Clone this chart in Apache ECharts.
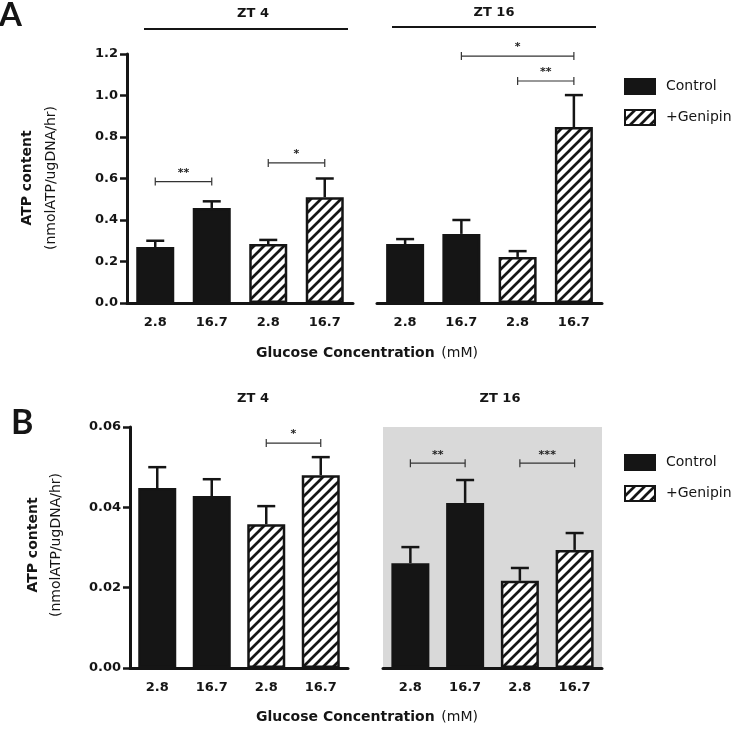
<!DOCTYPE html>
<html>
<head>
<meta charset="utf-8">
<script src="https://cdn.jsdelivr.net/npm/echarts@6/dist/echarts.min.js"></script>
<style>
  html, body { margin: 0; padding: 0; background: #fff; }
  #chart { width: 743px; height: 732px; }
</style>
</head>
<body>
<div id="chart"></div>
<script>
// x categories (glucose, mM) - same for every group
const categories = ['2.8', '16.7', '2.8', '16.7'];
const groupNames = ['ZT 4', 'ZT 16'];
const legendNames = ['Control', '+Genipin'];

// panel A - ATP content, mean and SEM (first two Control, last two +Genipin)
const aZt4Mean = [0.27, 0.458, 0.284, 0.51];
const aZt4Err = [0.03, 0.032, 0.02, 0.09];
const aZt16Mean = [0.284, 0.333, 0.222, 0.848];
const aZt16Err = [0.024, 0.067, 0.028, 0.154];

// panel B
const bZt4Mean = [0.0448, 0.0428, 0.0358, 0.048];
const bZt4Err = [0.0052, 0.0042, 0.0045, 0.0045];
const bZt16Mean = [0.0261, 0.0411, 0.0217, 0.0294];
const bZt16Err = [0.004, 0.0057, 0.0032, 0.0042];

// significance brackets: [from index, to index, y, stars]
const aZt4Sig = [[0, 1, 0.585, '**'], [2, 3, 0.675, '*']];
const aZt16Sig = [[1, 3, 1.19, '*'], [2, 3, 1.07, '**']];
const bZt4Sig = [[2, 3, 0.056, '*']];
const bZt16Sig = [[0, 1, 0.051, '**'], [2, 3, 0.051, '***']];

const FONT = 'DejaVu Sans';
const INK = '#151515';

// diagonal hatch for the +Genipin bars
function hatch() {
  const n = 10;
  const c = document.createElement('canvas');
  c.width = n;
  c.height = n;
  const g = c.getContext('2d');
  g.fillStyle = '#fff';
  g.fillRect(0, 0, n, n);
  g.strokeStyle = INK;
  g.lineWidth = 2.7;
  g.beginPath();
  g.moveTo(-2, n + 2); g.lineTo(n + 2, -2);
  g.moveTo(-2, 2); g.lineTo(2, -2);
  g.moveTo(n - 2, n + 2); g.lineTo(n + 2, n - 2);
  g.stroke();
  return c;
}
const hatchFill = { image: hatch(), repeat: 'repeat' };

const grids = [
  { left: 127, top: 54, width: 226, height: 249 },
  { left: 377, top: 54, width: 225, height: 249 },
  { left: 130, top: 427, width: 218, height: 241 },
  { left: 383, top: 427, width: 219, height: 241, show: true, backgroundColor: '#d9d9d9', borderWidth: 0 }
];

const panels = [
  { mean: aZt4Mean, err: aZt4Err, sig: aZt4Sig, max: 1.2, step: 0.2, digits: 1, showY: true },
  { mean: aZt16Mean, err: aZt16Err, sig: aZt16Sig, max: 1.2, step: 0.2, digits: 1, showY: false },
  { mean: bZt4Mean, err: bZt4Err, sig: bZt4Sig, max: 0.06, step: 0.02, digits: 2, showY: true },
  { mean: bZt16Mean, err: bZt16Err, sig: bZt16Sig, max: 0.06, step: 0.02, digits: 2, showY: false }
];

const xAxis = panels.map((p, i) => ({
  type: 'category',
  gridIndex: i,
  data: categories,
  axisLine: { lineStyle: { color: INK, width: 3 } },
  axisTick: { alignWithLabel: true, length: 5, lineStyle: { color: INK, width: 2.5 } },
  axisLabel: { color: INK, fontFamily: FONT, fontWeight: 'bold', fontSize: 13, margin: 13 }
}));

const yAxis = panels.map((p, i) => ({
  type: 'value',
  gridIndex: i,
  min: 0,
  max: p.max,
  interval: p.step,
  show: p.showY,
  splitLine: { show: false },
  axisLine: { show: true, lineStyle: { color: INK, width: 3 } },
  axisTick: { show: true, length: 7, lineStyle: { color: INK, width: 2.5 } },
  axisLabel: {
    color: INK, fontFamily: FONT, fontWeight: 'bold', fontSize: 13, margin: 9,
    formatter: v => v.toFixed(p.digits)
  }
}));

const series = [];
panels.forEach((p, i) => {
  series.push({
    name: 'Control',
    type: 'bar',
    xAxisIndex: i,
    yAxisIndex: i,
    barWidth: 38,
    barGap: '-100%',
    itemStyle: { color: INK, borderColor: INK, borderWidth: 2.5 },
    data: p.mean.map((v, k) => (k < 2 ? v : '-'))
  });
  series.push({
    name: '+Genipin',
    type: 'bar',
    xAxisIndex: i,
    yAxisIndex: i,
    barWidth: 38,
    barGap: '-100%',
    itemStyle: { color: hatchFill, borderColor: INK, borderWidth: 2.5 },
    data: p.mean.map((v, k) => (k >= 2 ? v : '-'))
  });
  // upper error bar only
  series.push({
    type: 'custom',
    xAxisIndex: i,
    yAxisIndex: i,
    z: 3,
    silent: true,
    encode: { x: 0, y: [1, 2] },
    data: p.mean.map((m, k) => [k, m, m + p.err[k]]),
    renderItem: (params, api) => {
      const base = api.coord([api.value(0), api.value(1)]);
      const top = api.coord([api.value(0), api.value(2)]);
      const st = { stroke: INK, lineWidth: 2.5 };
      return {
        type: 'group',
        children: [
          { type: 'line', shape: { x1: top[0], y1: base[1], x2: top[0], y2: top[1] }, style: st },
          { type: 'line', shape: { x1: top[0] - 9, y1: top[1], x2: top[0] + 9, y2: top[1] }, style: st }
        ]
      };
    }
  });
  // significance brackets
  series.push({
    type: 'custom',
    xAxisIndex: i,
    yAxisIndex: i,
    z: 4,
    silent: true,
    clip: false,
    encode: { x: [0, 1], y: 2 },
    data: p.sig.map(s => [s[0], s[1], s[2]]),
    renderItem: (params, api) => {
      const a = api.coord([api.value(0), api.value(2)]);
      const b = api.coord([api.value(1), api.value(2)]);
      const st = { stroke: '#333', lineWidth: 1.2 };
      return {
        type: 'group',
        children: [
          { type: 'line', shape: { x1: a[0], y1: a[1], x2: b[0], y2: b[1] }, style: st },
          { type: 'line', shape: { x1: a[0], y1: a[1] - 4, x2: a[0], y2: a[1] + 4 }, style: st },
          { type: 'line', shape: { x1: b[0], y1: b[1] - 4, x2: b[0], y2: b[1] + 4 }, style: st },
          {
            type: 'text',
            x: (a[0] + b[0]) / 2,
            y: a[1] - 3,
            style: {
              text: p.sig[params.dataIndex][3],
              fill: '#222', font: 'bold 11px "DejaVu Sans"',
              align: 'center', verticalAlign: 'bottom'
            }
          }
        ]
      };
    }
  });
});

function legendAt(top) {
  return {
    data: legendNames,
    orient: 'vertical',
    left: 619,
    top: top,
    icon: 'rect',
    itemWidth: 30,
    itemHeight: 15,
    itemGap: 14,
    selectedMode: false,
    textStyle: { color: INK, fontFamily: FONT, fontSize: 14, padding: [0, 0, 0, 6] }
  };
}

function text(str, x, y, opt) {
  return {
    type: 'text',
    x: x,
    y: y,
    style: Object.assign({
      text: str, fill: INK, align: 'center', verticalAlign: 'middle',
      font: 'bold 13px "DejaVu Sans"'
    }, opt || {})
  };
}

function yTitle(x1, x2, cy) {
  return [
    Object.assign(text('ATP content', x1, cy, { font: 'bold 14px "DejaVu Sans"' }), { rotation: Math.PI / 2 }),
    Object.assign(text('(nmolATP/ugDNA/hr)', x2, cy, { font: '14px "DejaVu Sans"' }), { rotation: Math.PI / 2 })
  ];
}

function xTitle(cx, y) {
  return {
    type: 'text',
    x: cx,
    y: y,
    style: {
      text: '{b|Glucose Concentration}  {n|(mM)}',
      align: 'center', verticalAlign: 'middle',
      rich: {
        b: { font: 'bold 14px "DejaVu Sans"', fill: INK },
        n: { font: '14px "DejaVu Sans"', fill: INK }
      }
    }
  };
}

const graphic = [
  text('A', -1, 15, { font: 'bold 33px Lato', align: 'left' }),
  text('B', 11, 423, { font: 'bold 34px Lato', align: 'left' }),
  text(groupNames[0], 253, 14),
  text(groupNames[1], 494, 13),
  { type: 'line', shape: { x1: 144, y1: 29, x2: 348, y2: 29 }, style: { stroke: INK, lineWidth: 2 } },
  { type: 'line', shape: { x1: 392, y1: 27, x2: 596, y2: 27 }, style: { stroke: INK, lineWidth: 2 } },
  text(groupNames[0], 253, 399),
  text(groupNames[1], 500, 399),
  ...yTitle(27, 51, 178),
  ...yTitle(33, 56, 545),
  xTitle(367, 353),
  xTitle(367, 717)
];

const chart = echarts.init(document.getElementById('chart'), null, { renderer: 'canvas' });
chart.setOption({
  animation: false,
  backgroundColor: '#fff',
  grid: grids,
  xAxis: xAxis,
  yAxis: yAxis,
  legend: [legendAt(73), legendAt(449)],
  graphic: graphic,
  series: series
});
</script>
</body>
</html>
